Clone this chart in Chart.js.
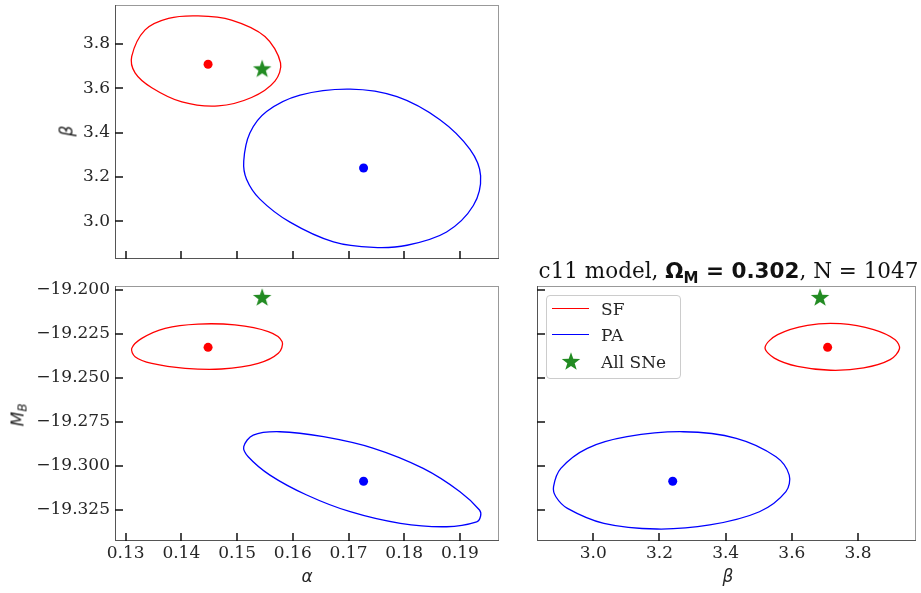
<!DOCTYPE html>
<html>
<head>
<meta charset="utf-8">
<script src="https://cdn.jsdelivr.net/npm/chart.js@4.4.1/dist/chart.umd.min.js"></script>
<style>
  body { margin:0; background:#fff; width:921px; height:593px; position:relative; overflow:hidden; }
  canvas.p { position:absolute; }
  .lab { position:absolute; font-family:'DejaVu Sans'; font-style:italic; font-size:17px; color:#262626;
         line-height:1; white-space:nowrap; transform:translate(-50%,-50%); }
  .rot { transform:translate(-50%,-50%) rotate(-90deg); }
  .lab sub { font-size:0.7em; vertical-align:-0.25em; line-height:0; }
  #title { position:absolute; left:537px; width:383px; top:258px; height:26px; line-height:26px; text-align:center;
           font-family:'DejaVu Serif'; font-size:21.5px; color:#111; white-space:nowrap; }
  #title b { font-family:'DejaVu Sans'; font-weight:bold; }
  #title sub { font-size:0.7em; vertical-align:-0.3em; line-height:0; }
  #legend { position:absolute; left:546px; top:295px; width:135px; height:84px; box-sizing:border-box;
            border:1px solid #ccc; border-radius:4px; background:rgba(255,255,255,0.8);
            font-family:'DejaVu Serif'; font-size:17px; color:#262626; }
  #legend .sw { position:absolute; left:5px; width:37px; height:0; border-top:1.5px solid; }
  #legend .lt { position:absolute; left:54px; height:26px; line-height:26px; white-space:nowrap; }
  #legend canvas { position:absolute; }
</style>
</head>
<body>
<canvas class="p" id="ab" width="510" height="270" style="left:0;top:0"></canvas>
<canvas class="p" id="am" width="510" height="323" style="left:0;top:270px"></canvas>
<canvas class="p" id="bm" width="411" height="323" style="left:510px;top:270px"></canvas>

<div class="lab rot" style="left:67px;top:131px">β</div>
<div class="lab rot" style="left:18px;top:415px">M<sub>B</sub></div>
<div class="lab" style="left:307px;top:576px">α</div>
<div class="lab" style="left:728px;top:576px">β</div>

<div id="title">c11 model, <b>Ω<sub>M</sub> = 0.302</b>, N = 1047</div>

<div id="legend">
  <div class="sw" style="top:12px;border-top-color:#ff0000"></div><div class="lt" style="top:0px">SF</div>
  <div class="sw" style="top:38px;border-top-color:#0000ff"></div><div class="lt" style="top:26px">PA</div>
  <canvas id="legStar" width="22" height="22" style="left:13px;top:55px"></canvas><div class="lt" style="top:53px">All SNe</div>
</div>

<script>
// axis limits and tick values
const alphaLim = [0.1281, 0.1970];
const betaLim = [2.830, 3.975];
const mbLim = [-19.3426, -19.1979];
const alphaTicks = [0.13, 0.14, 0.15, 0.16, 0.17, 0.18, 0.19];
const betaTicks = [3.0, 3.2, 3.4, 3.6, 3.8];
const mbTicks = [-19.2, -19.225, -19.25, -19.275, -19.3, -19.325];

// best fit points, [alpha, beta, M_B]
const sfBest = [0.1448, 3.708, -19.2327];
const paBest = [0.1727, 3.240, -19.3087];
const allBest = [0.1545, 3.685, -19.2047];

// contours, [x, y]
const sfAlphaBeta = [[0.1311,3.743],[0.1335,3.863],[0.1377,3.915],[0.1430,3.926],[0.1490,3.907],[0.1550,3.833],
  [0.1578,3.714],[0.1568,3.632],[0.1526,3.558],[0.1466,3.520],[0.1401,3.538],[0.1347,3.602],[0.1317,3.669]];
const paAlphaBeta = [[0.1512,3.272],[0.1523,3.398],[0.1553,3.495],[0.1613,3.569],[0.1703,3.596],[0.1787,3.562],
  [0.1864,3.458],[0.1918,3.324],[0.1937,3.205],[0.1924,3.071],[0.1876,2.952],[0.1805,2.892],[0.1745,2.882],
  [0.1673,2.907],[0.1595,2.996],[0.1541,3.100],[0.1517,3.190]];
const sfAlphaMB = [[0.1311,-19.2333],[0.1329,-19.2276],[0.1371,-19.2219],[0.1430,-19.2195],[0.1496,-19.2200],
  [0.1556,-19.2238],[0.1581,-19.2295],[0.1574,-19.2361],[0.1538,-19.2418],[0.1472,-19.2450],[0.1407,-19.2446],
  [0.1347,-19.2418],[0.1317,-19.2380]];
const paAlphaMB = [[0.1512,-19.2891],[0.1529,-19.2825],[0.1577,-19.2806],[0.1655,-19.2834],[0.1745,-19.2900],
  [0.1834,-19.3014],[0.1900,-19.3146],[0.1935,-19.3250],[0.1937,-19.3284],[0.1930,-19.3317],[0.1876,-19.3345],
  [0.1793,-19.3326],[0.1703,-19.3260],[0.1625,-19.3165],[0.1559,-19.3052],[0.1520,-19.2948]];
const sfBetaMB = [[3.519,-19.2327],[3.557,-19.2255],[3.647,-19.2202],[3.747,-19.2193],[3.847,-19.2227],
  [3.912,-19.2284],[3.925,-19.2335],[3.897,-19.2397],[3.817,-19.2444],[3.717,-19.2457],[3.617,-19.2435],[3.547,-19.2388]];
const paBetaMB = [[2.880,-19.3118],[2.902,-19.3014],[2.982,-19.2900],[3.102,-19.2834],[3.272,-19.2806],
  [3.432,-19.2843],[3.552,-19.2948],[3.592,-19.3052],[3.582,-19.3146],[3.502,-19.3260],[3.352,-19.3335],
  [3.192,-19.3358],[3.032,-19.3326],[2.922,-19.3241],[2.887,-19.3175]];

const RED = '#ff0000', BLUE = '#0000ff', GREEN = '#228b22';

function drawStar(c, r) {
  const g = c.getContext('2d'), s = c.width / 2;
  g.fillStyle = GREEN;
  g.beginPath();
  for (let i = 0; i < 10; i++) {
    const rad = i % 2 ? r * 0.4 : r;
    const a = -Math.PI / 2 + i * Math.PI / 5;
    g.lineTo(s + rad * Math.cos(a), s + rad * Math.sin(a));
  }
  g.closePath();
  g.fill();
  return c;
}
const star = document.createElement('canvas');
star.width = star.height = 22;
drawStar(star, 9.7);
drawStar(document.getElementById('legStar'), 9.7);

// frame + inward tick marks
const frame = {
  id: 'frame',
  afterDraw(chart) {
    const {ctx, chartArea: a, scales} = chart;
    ctx.save();
    ctx.lineWidth = 1;
    ctx.strokeStyle = '#999';
    ctx.beginPath();
    ctx.moveTo(a.left, a.top + 0.5); ctx.lineTo(a.right, a.top + 0.5);
    ctx.moveTo(a.right - 0.5, a.top); ctx.lineTo(a.right - 0.5, a.bottom);
    ctx.stroke();
    ctx.strokeStyle = '#555';
    ctx.beginPath();
    ctx.moveTo(a.left + 0.5, a.top); ctx.lineTo(a.left + 0.5, a.bottom);
    ctx.moveTo(a.left, a.bottom - 0.5); ctx.lineTo(a.right, a.bottom - 0.5);
    ctx.stroke();
    ctx.strokeStyle = '#111';
    ctx.lineWidth = 1.5;
    ctx.beginPath();
    scales.x.ticks.forEach(t => {
      const px = Math.round(scales.x.getPixelForValue(t.value));
      ctx.moveTo(px, a.bottom); ctx.lineTo(px, a.bottom - 8);
    });
    scales.y.ticks.forEach(t => {
      const py = Math.round(scales.y.getPixelForValue(t.value));
      ctx.moveTo(a.left, py); ctx.lineTo(a.left + 8, py);
    });
    ctx.stroke();
    ctx.restore();
  }
};

function contour(pts, color) {
  const p = pts.map(([x, y]) => ({x, y}));
  const n = p.length;
  return {
    data: [p[n - 1], ...p, p[0], p[1]],
    showLine: true, borderColor: color, borderWidth: 1.3, pointRadius: 0, tension: 0.33,
    segment: { borderColor: c => (c.p0DataIndex === 0 || c.p1DataIndex === n + 2) ? 'rgba(0,0,0,0)' : color }
  };
}
function dot(x, y, color) {
  return { data: [{x, y}], pointRadius: 4.5, pointBackgroundColor: color, pointBorderWidth: 0 };
}
function axis(a) {
  return {
    type: 'linear', min: a.lim[0], max: a.lim[1],
    grid: { display: false, drawTicks: false }, border: { display: false },
    ticks: { display: a.labels, padding: a.pad, autoSkip: false, maxRotation: 0, color: '#262626',
             font: { family: 'DejaVu Serif', size: 17 },
             callback: v => v.toFixed(a.dec).replace('-', '\u2212') },
    afterBuildTicks: s => { s.ticks = a.ticks.map(v => ({value: v})); },
    afterFit: s => {
      if (s.isHorizontal()) s.height = a.size; else s.width = a.size;
      s.paddingTop = s.paddingBottom = s.paddingLeft = s.paddingRight = 0;
    }
  };
}
function panel(id, o) {
  new Chart(document.getElementById(id), {
    type: 'scatter',
    data: { datasets: [
      { data: [{x: o.all[0], y: o.all[1]}], pointStyle: star },
      dot(o.sf[0], o.sf[1], RED),
      dot(o.pa[0], o.pa[1], BLUE),
      contour(o.sfC, RED),
      contour(o.paC, BLUE)
    ]},
    options: {
      responsive: false, animation: false, events: [],
      layout: { padding: o.padding },
      plugins: { legend: { display: false }, tooltip: { enabled: false } },
      scales: { x: axis(o.x), y: axis(o.y) }
    },
    plugins: [frame]
  });
}

panel('ab', {
  padding: {top: 3, right: 11, left: 0, bottom: 0},
  x: {lim: alphaLim, ticks: alphaTicks, labels: false, dec: 2, pad: 2, size: 11},
  y: {lim: betaLim, ticks: betaTicks, labels: true, dec: 1, pad: 5, size: 115},
  sf: [sfBest[0], sfBest[1]], pa: [paBest[0], paBest[1]], all: [allBest[0], allBest[1]],
  sfC: sfAlphaBeta, paC: paAlphaBeta
});
panel('am', {
  padding: {top: 16, right: 11, left: 0, bottom: 0},
  x: {lim: alphaLim, ticks: alphaTicks, labels: true, dec: 2, pad: 2, size: 52},
  y: {lim: mbLim, ticks: mbTicks, labels: true, dec: 3, pad: 5, size: 115},
  sf: [sfBest[0], sfBest[2]], pa: [paBest[0], paBest[2]], all: [allBest[0], allBest[2]],
  sfC: sfAlphaMB, paC: paAlphaMB
});
panel('bm', {
  padding: {top: 16, right: 1, left: 0, bottom: 0},
  x: {lim: betaLim, ticks: betaTicks, labels: true, dec: 1, pad: 2, size: 52},
  y: {lim: mbLim, ticks: mbTicks, labels: false, dec: 3, pad: 5, size: 27},
  sf: [sfBest[1], sfBest[2]], pa: [paBest[1], paBest[2]], all: [allBest[1], allBest[2]],
  sfC: sfBetaMB, paC: paBetaMB
});
</script>
</body>
</html>
